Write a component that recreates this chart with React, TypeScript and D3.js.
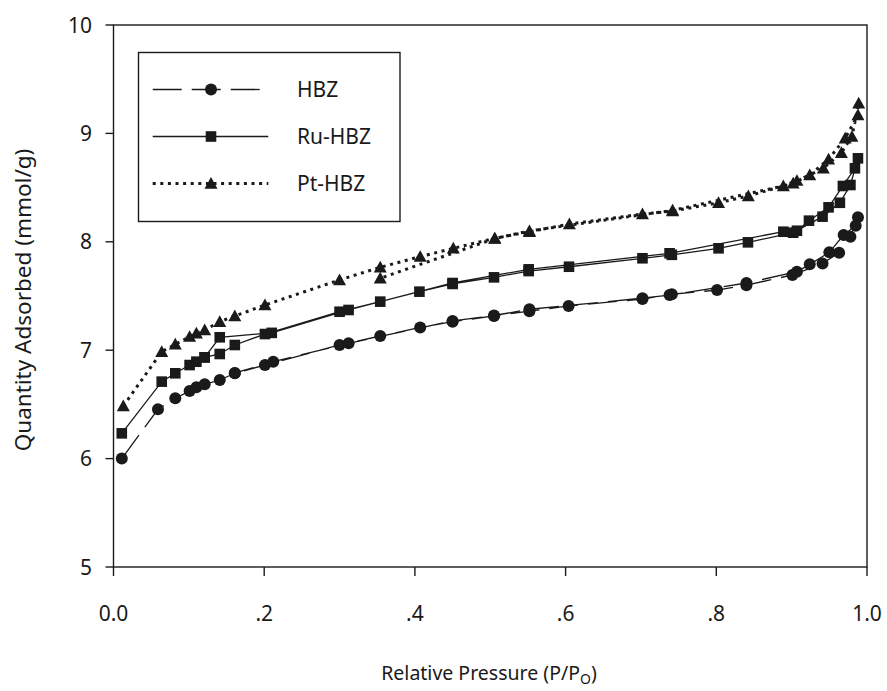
import React from "react";
import * as d3 from "d3";

// Relative pressure / quantity adsorbed (mmol/g)
const hbzAds: [number, number][] = [
  [0.011, 6.0], [0.059, 6.455], [0.082, 6.556], [0.101, 6.624], [0.11, 6.658], [0.121, 6.685],
  [0.141, 6.725], [0.161, 6.787], [0.201, 6.863], [0.3, 7.048], [0.354, 7.131], [0.407, 7.21],
  [0.45, 7.263], [0.505, 7.316], [0.552, 7.36], [0.604, 7.408], [0.702, 7.472], [0.741, 7.516],
  [0.801, 7.555], [0.84, 7.6], [0.901, 7.694], [0.941, 7.8], [0.963, 7.9], [0.978, 8.047], [0.988, 8.226],
];
const hbzDes: [number, number][] = [
  [0.985, 8.149], [0.969, 8.063], [0.95, 7.903], [0.924, 7.792], [0.907, 7.724], [0.84, 7.62],
  [0.738, 7.509], [0.702, 7.48], [0.552, 7.377], [0.505, 7.32], [0.45, 7.27], [0.312, 7.064],
  [0.212, 6.894], [0.161, 6.79],
];
const ruAds: [number, number][] = [
  [0.011, 6.233], [0.064, 6.71], [0.082, 6.787], [0.101, 6.863], [0.11, 6.894], [0.121, 6.934],
  [0.141, 6.965], [0.161, 7.048], [0.201, 7.149], [0.3, 7.355], [0.354, 7.448], [0.406, 7.54],
  [0.45, 7.611], [0.505, 7.672], [0.551, 7.73], [0.6045, 7.77], [0.702, 7.848], [0.741, 7.88],
  [0.803, 7.94], [0.842, 7.995], [0.902, 8.084], [0.941, 8.232], [0.964, 8.36], [0.978, 8.524], [0.988, 8.77],
];
const ruDes: [number, number][] = [
  [0.984, 8.678], [0.968, 8.515], [0.949, 8.318], [0.923, 8.195], [0.907, 8.102], [0.889, 8.093],
  [0.738, 7.894], [0.551, 7.746], [0.45, 7.62], [0.312, 7.371], [0.21, 7.16], [0.141, 7.119], [0.121, 6.934],
];
const ptAds: [number, number][] = [
  [0.013, 6.485], [0.064, 6.986], [0.082, 7.054], [0.101, 7.125], [0.11, 7.156], [0.121, 7.186],
  [0.141, 7.263], [0.161, 7.315], [0.201, 7.417], [0.3, 7.648], [0.354, 7.765], [0.407, 7.863],
  [0.451, 7.94], [0.506, 8.032], [0.552, 8.093], [0.605, 8.164], [0.702, 8.256], [0.742, 8.284],
  [0.803, 8.36], [0.8425, 8.423], [0.902, 8.54], [0.942, 8.678], [0.966, 8.822], [0.98, 8.97], [0.989, 9.277],
];
const ptDes: [number, number][] = [
  [0.988, 9.17], [0.971, 8.955], [0.949, 8.761], [0.924, 8.616], [0.907, 8.564], [0.889, 8.515],
  [0.742, 8.29], [0.552, 8.1], [0.506, 8.03], [0.354, 7.663],
];

const xTicks = [0, 0.2, 0.4, 0.6, 0.8, 1.0];
const xTickLabels = ["0.0", ".2", ".4", ".6", ".8", "1.0"];
const yTicks = [5, 6, 7, 8, 9, 10];
const seriesNames = ["HBZ", "Ru-HBZ", "Pt-HBZ"];

const FONT = "'Noto Sans', 'Open Sans', sans-serif";
const INK = "#1a1a1a";

type Shape = "circle" | "square" | "triangle";

function Marker({ x, y, shape, s = 1 }: { x: number; y: number; shape: Shape; s?: number }) {
  if (shape === "circle") return <circle cx={x} cy={y} r={6 * s} fill={INK} />;
  if (shape === "square") {
    const h = 5.3 * s;
    return <rect x={x - h} y={y - h} width={2 * h} height={2 * h} fill={INK} />;
  }
  const r = 6.5 * s;
  return (
    <path
      d={`M${x},${y - r} L${x + r},${y + r * 0.8} L${x - r},${y + r * 0.8} Z`}
      fill={INK}
    />
  );
}

export default function App() {
  const W = 887;
  const H = 691;
  const x = d3.scaleLinear().domain([0, 1]).range([113.5, 867]);
  const y = d3.scaleLinear().domain([5, 10]).range([567, 25]);
  const line = d3
    .line<[number, number]>()
    .x((d) => x(d[0]))
    .y((d) => y(d[1]));

  const series = [
    { name: seriesNames[0], data: [...hbzAds, ...hbzDes], shape: "circle" as Shape, dash: "29,10", w: 1.3 },
    { name: seriesNames[1], data: [...ruAds, ...ruDes], shape: "square" as Shape, dash: undefined, w: 1.3 },
    { name: seriesNames[2], data: [...ptAds, ...ptDes], shape: "triangle" as Shape, dash: "3,4.6", w: 3 },
  ];

  const [x0, x1] = x.range();
  const [yb, yt] = y.range();

  const legendRows = [89.5, 136.5, 183.5];

  return (
    <svg
      width={W}
      height={H}
      style={{ position: "absolute", left: 0, top: 0, background: "#fff" }}
      fontFamily={FONT}
    >
      {/* frame */}
      <rect x={x0} y={yt} width={x1 - x0} height={yb - yt} fill="none" stroke={INK} strokeWidth={1.4} />
      {/* y ticks */}
      {yTicks.map((t) => (
        <g key={"y" + t}>
          <line x1={x0 - 8} x2={x0} y1={y(t)} y2={y(t)} stroke={INK} strokeWidth={1.4} />
          <text x={92} y={y(t) + 7.5} fontSize={21} textAnchor="end" fill={INK}>
            {t}
          </text>
        </g>
      ))}
      {/* x ticks */}
      {xTicks.map((t, i) => (
        <g key={"x" + t}>
          <line x1={x(t)} x2={x(t)} y1={yb} y2={yb + 9} stroke={INK} strokeWidth={1.4} />
          <text x={x(t)} y={620.5} fontSize={21} textAnchor="middle" fill={INK}>
            {xTickLabels[i]}
          </text>
        </g>
      ))}
      {/* axis titles */}
      <text
        transform={`translate(31,300) rotate(-90)`}
        fontSize={22.5}
        textAnchor="middle"
        fill={INK}
      >
        Quantity Adsorbed (mmol/g)
      </text>
      <text x={489} y={680} fontSize={19.5} textAnchor="middle" fill={INK}>
        Relative Pressure (P/P
        <tspan fontSize={14} dy={4}>O</tspan>
        <tspan dy={-4}>)</tspan>
      </text>

      {/* series */}
      {series.map((s) => (
        <g key={s.name}>
          <path
            d={line(s.data) || ""}
            fill="none"
            stroke={INK}
            strokeWidth={s.w}
            strokeDasharray={s.dash}
          />
          {s.data.map((d, i) => (
            <Marker key={i} x={x(d[0])} y={y(d[1])} shape={s.shape} />
          ))}
        </g>
      ))}

      {/* legend */}
      <rect x={138.5} y={52.5} width={261.5} height={169} fill="#fff" stroke={INK} strokeWidth={1.4} />
      {series.map((s, i) => (
        <g key={"lg" + s.name}>
          <line
            x1={152.7}
            x2={268.3}
            y1={legendRows[i]}
            y2={legendRows[i]}
            stroke={INK}
            strokeWidth={s.w}
            strokeDasharray={s.dash}
          />
          <Marker x={211} y={legendRows[i]} shape={s.shape} />
          <text x={297} y={legendRows[i] + 7.5} fontSize={21} fill={INK}>
            {s.name}
          </text>
        </g>
      ))}
    </svg>
  );
}
